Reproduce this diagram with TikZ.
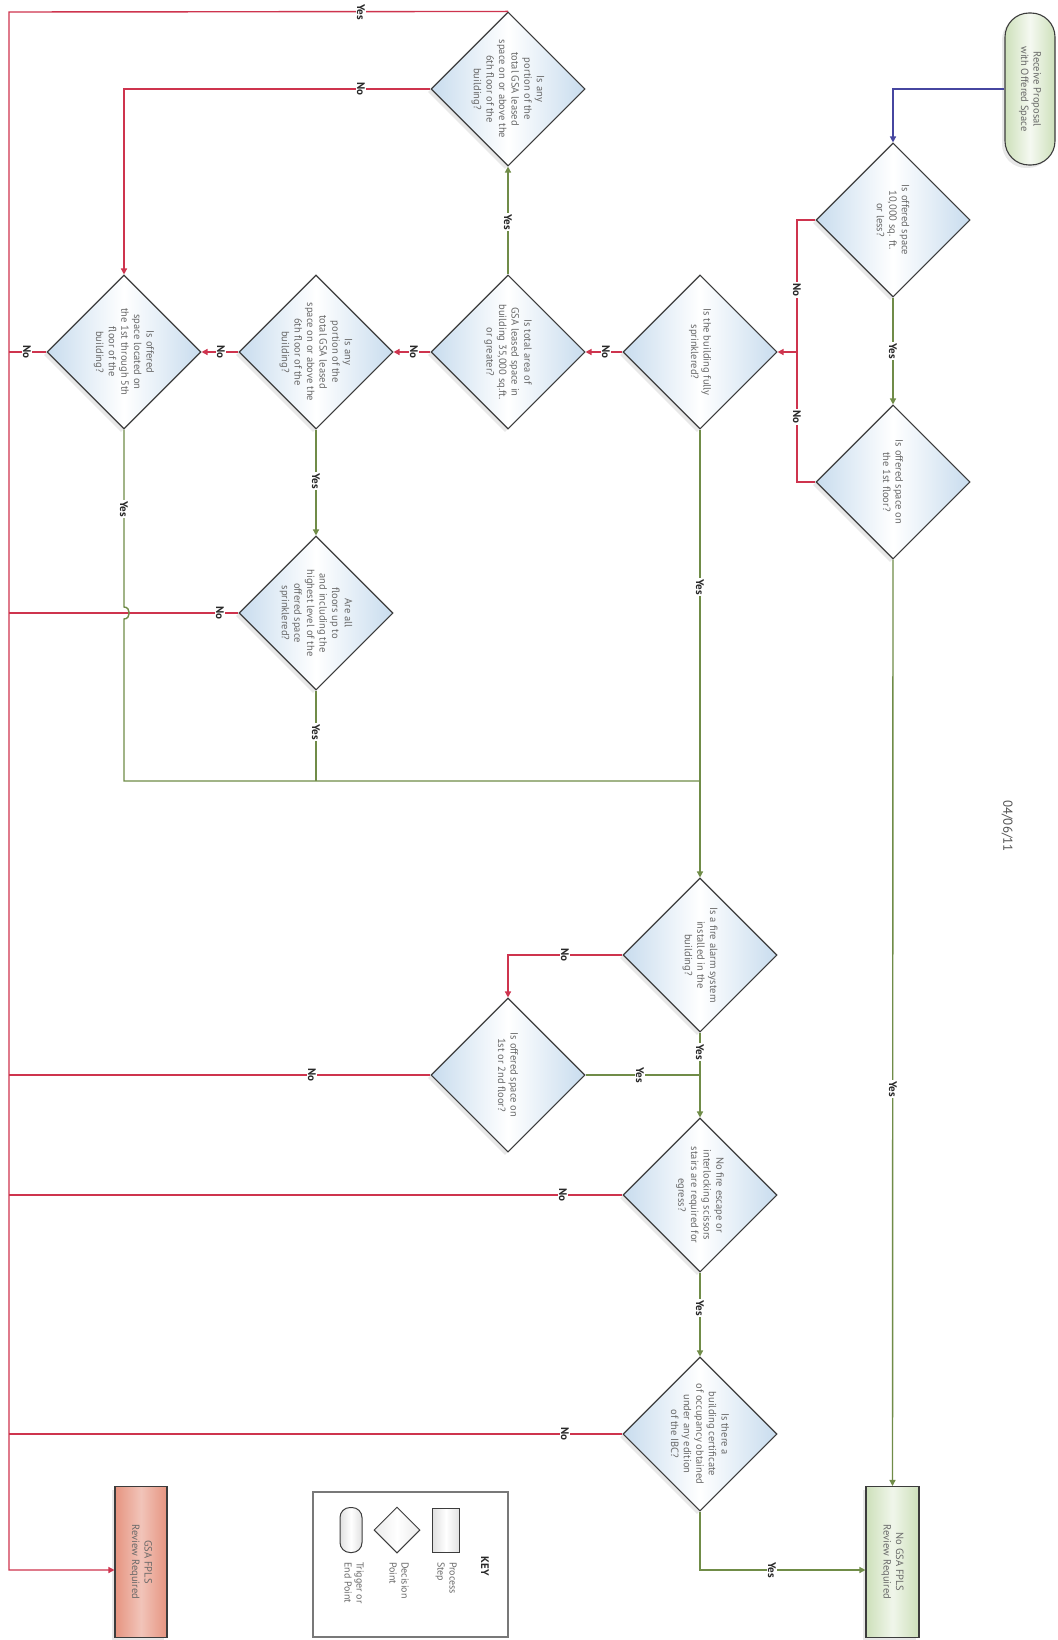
\documentclass[tikz,border=0pt]{standalone}
\usepackage{fontspec}
\setmainfont{PT Sans}
\usetikzlibrary{shapes.geometric,arrows.meta,shadows}
\definecolor{redc}{RGB}{206,52,78}
\definecolor{greenc}{RGB}{112,140,72}
\definecolor{bluec}{RGB}{70,70,160}
\definecolor{bordc}{RGB}{60,60,60}
\definecolor{dblue}{RGB}{200,220,238}
\definecolor{txtc}{RGB}{105,105,105}
\definecolor{labc}{RGB}{40,40,40}
\definecolor{lgreen}{RGB}{205,224,186}
\definecolor{salmon}{RGB}{230,148,128}
\definecolor{keyc}{RGB}{120,120,120}
\begin{document}
\begin{tikzpicture}[x=1pt,y=-1pt,
  dec/.style={diamond, aspect=1, draw=bordc, line width=1.1pt, minimum size=154pt, inner sep=0pt,
    left color=dblue, right color=dblue, middle color=white,
    drop shadow={opacity=0.18, shadow xshift=-3pt, shadow yshift=-3pt}},
  dtext/.style={rotate=-90, align=center, text=txtc, inner sep=0pt, font=\fontsize{10.5}{12.6}\selectfont},
  lab/.style={fill=white, inner sep=1.5pt, rotate=-90, text=labc, font=\bfseries\fontsize{11}{12}\selectfont},
  rline/.style={draw=redc, line width=1.4pt},
  gline/.style={draw=greenc, line width=1.4pt},
  bline/.style={draw=bluec, line width=1.4pt},
  arr/.style={-{Triangle[length=6pt,width=6pt]}},
  boxtext/.style={rotate=-90, align=center, text=txtc, inner sep=0pt, font=\fontsize{10.5}{12.6}\selectfont},
  keytext/.style={rotate=-90, anchor=north west, align=left, text=txtc, inner sep=0pt, font=\fontsize{10}{12}\selectfont},
]
\useasboundingbox (0,0) rectangle (1057,1640);
\fill[white] (0,0) rectangle (1057,1640);

% terminal
\node[draw=bordc, line width=1.1pt, rectangle, rounded corners=24pt, minimum width=50pt, minimum height=152pt,
  left color=lgreen, right color=lgreen, middle color=white!80!lgreen, inner sep=0pt,
  drop shadow={opacity=0.18, shadow xshift=-3pt, shadow yshift=-3pt}] (T) at (1030,89) {};
\node[boxtext] (Tt) at (T) {Receive Proposal\\with Offered Space};

% end boxes
\node[draw=bordc, line width=1.1pt, rectangle, minimum width=53pt, minimum height=151pt,
  left color=lgreen, right color=lgreen, middle color=white!70!lgreen, inner sep=0pt,
  drop shadow={opacity=0.18, shadow xshift=-3pt, shadow yshift=-3pt}] (N) at (892.5,1562) {};
\node[boxtext] (Nt) at (N) {No GSA FPLS\\Review Required};
\node[draw=bordc, line width=1.1pt, rectangle, minimum width=52pt, minimum height=151pt,
  left color=salmon, right color=salmon, middle color=white!45!salmon, inner sep=0pt,
  drop shadow={opacity=0.18, shadow xshift=-3pt, shadow yshift=-3pt}] (G) at (141,1562) {};
\node[boxtext] (Gt) at (G) {GSA FPLS\\Review Required};

% diamonds
\node[dec] (D1) at (893,220) {};
\node[dtext] (t1) at (D1) {Is offered space\\10,000 sq. ft.\\or less?};
\node[dec] (D2) at (893,482) {};
\node[dtext] (t2) at (D2) {Is offered space on\\the 1st floor?};
\node[dec] (D3) at (700,352) {};
\node[dtext] (t3) at (D3) {Is the building fully\\sprinklered?};
\node[dec] (D4) at (508,352) {};
\node[dtext] (t4) at (D4) {Is total area of\\GSA leased space in\\building 35,000 sq.ft.\\or greater?};
\node[dec] (D5) at (508,89) {};
\node[dtext] (t5) at (D5) {Is any\\portion of the\\total GSA leased\\space on or above the\\6th floor of the\\building?};
\node[dec] (D6) at (316,352) {};
\node[dtext] (t6) at (D6) {Is any\\portion of the\\total GSA leased\\space on or above the\\6th floor of the\\building?};
\node[dec] (D7) at (124,352) {};
\node[dtext] (t7) at (D7) {Is offered\\space located on\\the 1st through 5th\\floor of the\\building?};
\node[dec] (D8) at (316,613) {};
\node[dtext] (t8) at (D8) {Are all\\floors up to\\and including the\\highest level of the\\offered space\\sprinklered?};
\node[dec] (D9) at (700,955) {};
\node[dtext] (t9) at (D9) {Is a fire alarm system\\installed in the\\building?};
\node[dec] (D10) at (508,1075) {};
\node[dtext] (t10) at (D10) {Is offered space on\\1st or 2nd floor?};
\node[dec] (D11) at (700,1195) {};
\node[dtext] (t11) at (D11) {No fire escape or\\interlocking scissors\\stairs are required for\\egress?};
\node[dec] (D12) at (700,1434) {};
\node[dtext] (t12) at (D12) {Is there a\\building certificate\\of occupancy obtained\\under any edition\\of the IBC?};

% date
\node[rotate=-90, text=labc!80, font=\fontsize{13}{14}\selectfont] (date) at (1007,826) {04/06/11};

% key
\node[draw=keyc, line width=1.2pt, rectangle, minimum width=195pt, minimum height=145pt, inner sep=0pt] (K) at (410.5,1564.5) {};
\node[rotate=-90, text=labc, font=\bfseries\fontsize{11}{12}\selectfont] (Kt) at (485,1566) {KEY};
\node[draw=bordc, line width=1pt, rectangle, minimum width=27pt, minimum height=44pt, inner sep=0pt,
  left color=black!12, right color=black!12, middle color=white] (K1) at (446,1530) {};
\node[keytext] (K1t) at (457,1562) {Process\\Step};
\node[draw=bordc, line width=1pt, diamond, aspect=1, minimum size=46pt, inner sep=0pt,
  left color=black!8, right color=black!8, middle color=white] (K2) at (397,1530) {};
\node[keytext] (K2t) at (409,1562) {Decision\\Point};
\node[draw=bordc, line width=1pt, rectangle, rounded corners=10pt, minimum width=22pt, minimum height=45pt, inner sep=0pt,
  left color=black!12, right color=black!12, middle color=white] (K3) at (351,1530) {};
\node[keytext] (K3t) at (364,1562) {Trigger or\\End Point};

% connectors
\draw[bline,arr] (T.west) -| (D1.north);
\draw[gline,arr] (D1.south) -- (D2.north);
\draw[rline] (D1.west) -- (797,220) -- (797,482) -- (D2.west);
\draw[rline,arr] (797,352) -- (D3.east);
\draw[rline,arr] (D3.west) -- (D4.east);
\draw[gline,arr] (D4.north) -- (D5.south);
\draw[rline,arr] (D4.west) -- (D6.east);
\draw[rline,arr] (D6.west) -- (D7.east);
\draw[rline] (D7.west) -- (9,352);
\draw[rline,arr] (D5.west) -| (D7.north);
\draw[rline,arr] (D5.north) -- (9,12) -- (9,1570) -- ([yshift=-8pt]G.west);
\draw[gline,arr] (D6.south) -- (D8.north);
\draw[rline] (D8.west) -- (9,613);
\draw[gline] (D7.south) -- (124,607) .. controls (131,607) and (131,619) .. (124,619) -- (124,781) -- (700,781);
\draw[gline] (D8.south) -- (316,781);
\draw[gline,arr] (D3.south) -- (D9.north);
\draw[rline,arr] (D9.west) -| (D10.north);
\draw[gline,arr] (D9.south) -- (D11.north);
\draw[gline] (D10.east) -- (700,1075);
\draw[rline] (D10.west) -- (9,1075);
\draw[rline] (D11.west) -- (9,1195);
\draw[gline,arr] (D11.south) -- (D12.north);
\draw[rline] (D12.west) -- (9,1434);
\draw[gline,arr] (D12.south) |- ([yshift=-8pt]N.west);
\draw[gline,arr] (D2.south) -- (N.north);

% labels
\node[lab] (y1) at (361,12) {Yes};
\node[lab] (n1) at (361,89) {No};
\node[lab] (y2) at (508,222) {Yes};
\node[lab] (n2) at (606,352) {No};
\node[lab] (n3) at (414,352) {No};
\node[lab] (n4) at (221,352) {No};
\node[lab] (n5) at (27,352) {No};
\node[lab] (n6) at (797,290) {No};
\node[lab] (n7) at (797,417) {No};
\node[lab] (y3) at (893,351) {Yes};
\node[lab] (y4) at (316,481) {Yes};
\node[lab] (n8) at (220,613) {No};
\node[lab] (y5) at (316,732) {Yes};
\node[lab] (y6) at (124,509) {Yes};
\node[lab] (y7) at (700,587) {Yes};
\node[lab] (n9) at (565,955) {No};
\node[lab] (y8) at (700,1052) {Yes};
\node[lab] (y9) at (640,1075) {Yes};
\node[lab] (n10) at (312,1075) {No};
\node[lab] (n11) at (563,1195) {No};
\node[lab] (y10) at (700,1308) {Yes};
\node[lab] (n12) at (565,1434) {No};
\node[lab] (y11) at (772,1570) {Yes};
\node[lab] (y12) at (893,1089) {Yes};
\end{tikzpicture}
\end{document}
